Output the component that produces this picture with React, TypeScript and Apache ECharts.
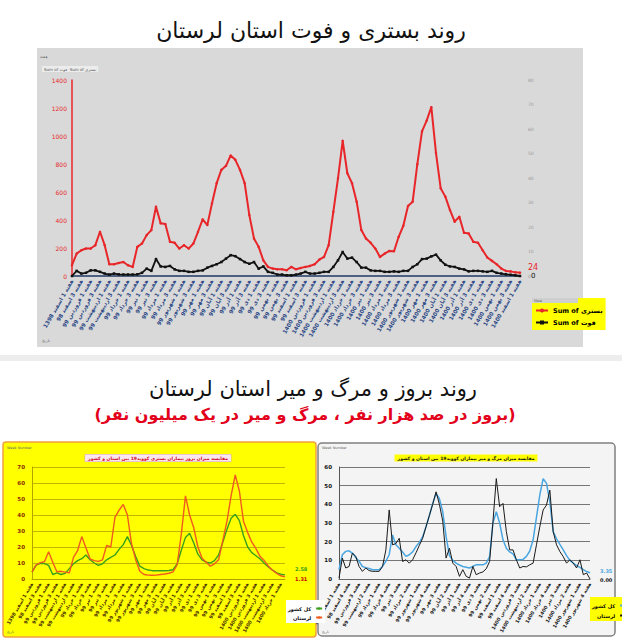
import React, { useEffect, useRef } from "react";
import * as echarts from "echarts";

const FONT = "'DejaVu Sans', 'Noto Sans', sans-serif";

// Persian month names used for the weekly tick labels
const months = ["فروردین", "اردیبهشت", "خرداد", "تیر", "مرداد", "شهریور", "مهر", "آبان", "آذر", "دی", "بهمن", "اسفند"];

function weekLabels(n: number): string[] {
  const out: string[] = [];
  let y = 1398;
  let m = 11;
  let w = 1;
  for (let i = 0; i < n; i++) {
    const yy = i === 0 || y === 1400 ? String(y) : String(y - 1300);
    out.push(`هفته ${w} ${months[m]} ${yy}`);
    w++;
    if (w > 4) {
      w = 1;
      m++;
      if (m > 11) {
        m = 0;
        y++;
      }
    }
  }
  return out;
}

// ---- Top chart: hospitalised (left axis) and deaths (right axis) ----
const hospitalised = [
  77, 160, 184, 196, 196, 220, 316, 220, 84, 84,
  93, 100, 77, 65, 208, 232, 292, 328, 495, 376,
  371, 244, 237, 196, 220, 196, 232, 316, 404, 364,
  519, 663, 758, 787, 861, 830, 758, 663, 435, 268,
  208, 112, 65, 53, 48, 48, 41, 65, 48,
  57, 65, 72, 84, 117, 136, 220, 459, 698, 966,
  734, 663, 531, 328, 268, 237, 196, 136, 160, 179,
  177, 280, 359, 500, 531, 799, 1033, 1110, 1206, 878,
  627, 567, 471, 388, 423, 309, 304, 244, 237, 184,
  132, 108, 84, 53, 36, 33, 26, 24,
];
const deaths = [
  0, 2.1, 1.0, 1.3, 2.3, 2.3, 1.7, 1.0, 0.6, 1.0,
  0.7, 0.6, 0.6, 0.6, 0.7, 1.3, 3.0, 2.1, 6.9, 3.9,
  3.7, 4.1, 2.7, 2.1, 2.1, 1.7, 1.7, 2.1, 2.3, 3.4,
  4.1, 4.8, 5.7, 7.1, 8.5, 8.1, 6.9, 5.7, 5.0, 5.7,
  3.0, 3.9, 1.7, 1.3, 0.6, 0.6, 0.3, 0.3, 0.6,
  1.0, 1.7, 1.0, 1.0, 1.3, 1.7, 1.7, 3.7, 6.4, 9.8,
  7.1, 7.5, 5.7, 3.4, 3.4, 2.3, 2.1, 2.1, 1.7, 1.7,
  1.9, 1.7, 2.1, 2.1, 3.7, 4.8, 6.9, 7.1, 8.0, 8.7,
  6.4, 4.6, 3.9, 3.7, 3.0, 2.7, 1.9, 2.1, 2.1, 1.9,
  1.7, 2.1, 1.3, 1.0, 0.7, 0.5, 0.3, 0,
];
const topWeeks = weekLabels(hospitalised.length);

// ---- Bottom-left: incidence per 100k (Lorestan vs whole country) ----
const incidenceLorestan = [
  4.3, 8.9, 10.2, 10.8, 17.0, 10.5, 4.5, 4.8, 4.3, 3.8,
  13.5, 17.8, 26.5, 19.5, 12.5, 11.5, 11.0, 12.0, 21.0, 20.0,
  38.5, 43.0, 46.6, 40.0, 22.0, 12.0, 4.8, 2.8, 2.4, 2.3,
  2.4, 2.8, 3.1, 3.6, 4.5, 8.9, 28, 52, 40, 32,
  20, 13, 10.5, 8.0, 9.5, 12.0, 24, 36, 52, 65,
  55, 36, 29, 23, 19, 14, 11.5, 8, 5.5, 3.5,
  2.0, 1.31,
];
const incidenceIran = [
  4.3, 8.7, 9.8, 9.6, 8.5, 2.8, 3.8, 2.8, 3.5, 6.5,
  9.5, 11.5, 12.7, 15.0, 12.0, 10.0, 8.5, 9.5, 12.0, 13.5,
  15.0, 18.5, 21.5, 26.5, 21.0, 14.0, 8.0, 6.5, 5.6, 5.2,
  5.2, 5.2, 5.2, 5.3, 5.8, 9.5, 18, 26, 28.6, 22.5,
  15.5, 12, 10.5, 10.0, 11.5, 15, 23, 31, 38, 40.4,
  36.5, 27, 20, 16.5, 14.5, 12.5, 9.8, 7.5, 5.5, 3.8,
  3.0, 2.58,
];
const incWeeks = weekLabels(incidenceLorestan.length);

// ---- Bottom-right: mortality per million (Lorestan vs whole country) ----
const mortalityLorestan = [
  0.5, 11.2, 5.9, 6.7, 13.9, 12.1, 6.7, 4.1, 5.9, 4.5,
  4.1, 4.1, 4.1, 6.7, 15.5, 37, 18.3, 19, 21.8, 9.4,
  10.3, 8.5, 10.3, 14, 18, 21.8, 28, 34, 40, 46.7,
  40, 31, 11.2, 16.5, 8.5, 6.7, 1.4, 5, 1.4, 0.5,
  6.7, 2.3, 3.2, 3.8, 5.5, 9.4, 30.7, 53.8, 38.7, 40.5,
  25.4, 15.6, 15.6, 10.3, 5.9, 6.7, 6.5, 7.6, 8.5, 18.3,
  28, 37, 39.6, 47.6, 25.4, 18.3, 14.7, 12, 8.5, 10.3,
  8.5, 5.9, 10.3, 2.3, 3.2, 0,
];
const mortalityIran = [
  5, 13, 14.8, 15.1, 13.9, 11.5, 9.5, 6.7, 6.1, 5.6,
  5, 5, 5, 6.8, 9.5, 13, 23.6, 18.3, 16.5, 14.5,
  12.1, 13, 14.5, 17.4, 19.5, 22.7, 28, 34, 40.5, 45.8,
  43, 36, 22.7, 12.5, 10, 8.5, 7.5, 6.7, 6.3, 5.9,
  6.8, 7.6, 7.6, 7.6, 8.5, 12, 30, 36, 30, 21,
  16.5, 14.5, 13.5, 10.3, 10.3, 10.5, 12.1, 15, 21, 33,
  45, 53.8, 51.2, 41.4, 25.4, 21.5, 18.5, 15.6, 12.5, 10,
  8.5, 7.2, 6.2, 5, 4, 3.35,
];
const mortWeeks = weekLabels(mortalityLorestan.length);

const titleTop = "روند بستری و فوت استان لرستان";
const titleBottom = "روند بروز و مرگ و میر استان لرستان";
const subtitleBottom = "(بروز در صد هزار نفر ، مرگ و میر در یک میلیون نفر)";
const innerTitleLeft = "مقایسه میزان بروز بیماران بستری کووید19 بین استان و کشور";
const innerTitleRight = "مقایسه میزان مرگ و میر بیماران کووید19 بین استان و کشور";
const nameHosp = "Sum of بستری";
const nameDeath = "Sum of فوت";
const nameIran = "کل کشور";
const nameLor = "لرستان";

const RED = "#e8262a";
const ORANGE = "#ef5a1f";
const GREEN = "#3aa01c";
const BLUE = "#4aa6e0";

const plain = (v: number) => String(v);

export default function App() {
  const ref = useRef<HTMLDivElement>(null);

  useEffect(() => {
    if (!ref.current) return;
    const chart = echarts.init(ref.current, undefined, { renderer: "svg" });

    const option: any = {
      animation: false,
      backgroundColor: "#ffffff",
      textStyle: { fontFamily: FONT },
      grid: [
        { left: 72, top: 80, width: 448, height: 196 },
        { left: 32, top: 467, width: 253, height: 112 },
        { left: 339, top: 467, width: 251, height: 112 },
      ],
      xAxis: [
        {
          gridIndex: 0,
          type: "category",
          data: topWeeks,
          boundaryGap: false,
          axisLine: { lineStyle: { color: "#1f3864", width: 1.5 } },
          axisTick: { show: false },
          axisLabel: { rotate: 60, fontSize: 5.5, color: "#2a4785", fontWeight: "bold", interval: 1, margin: 4 },
        },
        {
          gridIndex: 1,
          type: "category",
          data: incWeeks,
          boundaryGap: false,
          axisLine: { lineStyle: { color: "#b3a300", width: 1 } },
          axisTick: { show: false },
          axisLabel: { rotate: 60, fontSize: 4.8, color: "#4a3000", fontWeight: "bold", interval: 1, margin: 4 },
        },
        {
          gridIndex: 2,
          type: "category",
          data: mortWeeks,
          boundaryGap: false,
          axisLine: { lineStyle: { color: "#666", width: 1 } },
          axisTick: { show: false },
          axisLabel: { rotate: 60, fontSize: 4.8, color: "#222", fontWeight: "bold", interval: 2, margin: 4 },
        },
      ],
      yAxis: [
        {
          gridIndex: 0,
          type: "value",
          min: 0,
          max: 1400,
          interval: 200,
          axisLine: { show: true, lineStyle: { color: RED, width: 1.5 } },
          axisTick: { show: false },
          splitLine: { show: false },
          axisLabel: { fontSize: 6, color: RED, margin: 5, formatter: plain },
        },
        {
          gridIndex: 0,
          type: "value",
          position: "right",
          min: 0,
          max: 80,
          interval: 10,
          axisLine: { show: false },
          axisTick: { show: false },
          splitLine: { show: false },
          axisLabel: { fontSize: 4.5, color: "#9a9a9a", margin: 8, formatter: plain },
        },
        {
          gridIndex: 1,
          type: "value",
          min: 0,
          max: 70,
          interval: 10,
          axisLine: { show: true, lineStyle: { color: "#b3a300", width: 1 } },
          axisTick: { show: false },
          splitLine: { lineStyle: { color: "#b3a300", width: 0.8 } },
          axisLabel: { fontSize: 5.5, color: "#8b2a00", fontWeight: "bold", margin: 7, formatter: plain },
        },
        {
          gridIndex: 2,
          type: "value",
          min: 0,
          max: 60,
          interval: 10,
          axisLine: { show: true, lineStyle: { color: "#555", width: 1 } },
          axisTick: { show: false },
          splitLine: { lineStyle: { color: "#555", width: 0.8 } },
          axisLabel: { fontSize: 5.5, color: "#111", fontWeight: "bold", margin: 7, formatter: plain },
        },
      ],
      legend: [
        {
          left: 532,
          top: 298,
          orient: "vertical",
          backgroundColor: "#ffff00",
          padding: [9, 3, 4, 3],
          itemGap: 5,
          itemWidth: 12,
          itemHeight: 5,
          textStyle: { fontSize: 6.5, color: "#000", fontWeight: "bold" },
          data: [nameHosp, nameDeath],
        },
        {
          left: 286,
          top: 600,
          orient: "vertical",
          backgroundColor: "#ffffff",
          padding: [6, 2, 3, 2],
          itemGap: 4,
          itemWidth: 6,
          itemHeight: 3,
          align: "right",
          textStyle: { fontSize: 5, color: "#000", fontWeight: "bold" },
          data: [
            { name: nameIran, itemStyle: { color: GREEN }, lineStyle: { color: GREEN } },
            { name: nameLor, itemStyle: { color: ORANGE }, lineStyle: { color: ORANGE } },
          ],
        },
        {
          left: 590,
          top: 597,
          orient: "vertical",
          backgroundColor: "#ffff00",
          padding: [6, 2, 3, 2],
          itemGap: 5,
          itemWidth: 6,
          itemHeight: 3,
          align: "right",
          textStyle: { fontSize: 5, color: "#000", fontWeight: "bold" },
          data: [
            { name: nameIran, itemStyle: { color: BLUE }, lineStyle: { color: BLUE } },
            { name: nameLor, itemStyle: { color: "#111" }, lineStyle: { color: "#111" } },
          ],
        },
      ],
      series: [
        {
          name: nameHosp,
          type: "line",
          xAxisIndex: 0,
          yAxisIndex: 0,
          data: hospitalised,
          symbol: "circle",
          symbolSize: 2.5,
          itemStyle: { color: RED },
          lineStyle: { color: RED, width: 2 },
          endLabel: { show: true, formatter: (p: any) => String(p.value), color: RED, fontSize: 8, offset: [0, -5] },
          z: 3,
        },
        {
          name: nameDeath,
          type: "line",
          xAxisIndex: 0,
          yAxisIndex: 1,
          data: deaths,
          symbol: "rect",
          symbolSize: 2.5,
          itemStyle: { color: "#111" },
          lineStyle: { color: "#111", width: 1.8 },
          endLabel: { show: true, formatter: (p: any) => String(p.value), color: "#111", fontSize: 7, offset: [3, 0] },
          z: 4,
        },
        {
          name: nameIran,
          type: "line",
          xAxisIndex: 1,
          yAxisIndex: 2,
          data: incidenceIran,
          symbol: "none",
          lineStyle: { color: GREEN, width: 1.4 },
          itemStyle: { color: GREEN },
          endLabel: { show: true, formatter: (p: any) => Number(p.value).toFixed(2), color: GREEN, fontSize: 5, fontWeight: "bold", offset: [2, -6] },
          z: 3,
        },
        {
          name: nameLor,
          type: "line",
          xAxisIndex: 1,
          yAxisIndex: 2,
          data: incidenceLorestan,
          symbol: "none",
          lineStyle: { color: ORANGE, width: 1.4 },
          itemStyle: { color: ORANGE },
          endLabel: { show: true, formatter: (p: any) => Number(p.value).toFixed(2), color: "#c00000", fontSize: 5, fontWeight: "bold", offset: [2, 2] },
          z: 4,
        },
        {
          name: nameIran,
          type: "line",
          xAxisIndex: 2,
          yAxisIndex: 3,
          data: mortalityIran,
          symbol: "none",
          lineStyle: { color: BLUE, width: 1.5 },
          itemStyle: { color: BLUE },
          endLabel: { show: true, formatter: (p: any) => Number(p.value).toFixed(2), color: BLUE, fontSize: 5, fontWeight: "bold", offset: [2, -2] },
          z: 3,
        },
        {
          name: nameLor,
          type: "line",
          xAxisIndex: 2,
          yAxisIndex: 3,
          data: mortalityLorestan,
          symbol: "none",
          lineStyle: { color: "#1a1a1a", width: 1 },
          itemStyle: { color: "#1a1a1a" },
          endLabel: { show: true, formatter: (p: any) => Number(p.value).toFixed(2), color: "#111", fontSize: 5, fontWeight: "bold", offset: [2, 1] },
          z: 4,
        },
      ],
      graphic: [
        { type: "rect", z: -10, silent: true, shape: { x: 37, y: 48, width: 546, height: 299 }, style: { fill: "#d9d9d9" } },
        { type: "rect", z: -10, silent: true, shape: { x: 0, y: 355, width: 622, height: 6 }, style: { fill: "#ededed" } },
        { type: "rect", z: -10, silent: true, shape: { x: 3, y: 442, width: 313, height: 195, r: 3 }, style: { fill: "#ffff00", stroke: "#f0a040", lineWidth: 1.5 } },
        { type: "rect", z: -9, silent: true, shape: { x: 318, y: 443, width: 297, height: 193, r: 4 }, style: { fill: "#f4f4f4", stroke: "#808080", lineWidth: 1.5 } },
        { type: "rect", z: 10, silent: true, shape: { x: 532, y: 298, width: 46, height: 5 }, style: { fill: "#cfcfcf" } },
        { type: "text", z: 10, x: 534, y: 300.5, style: { text: "Mew", fontSize: 3.5, fill: "#666", verticalAlign: "middle", fontFamily: FONT } },
        { type: "text", x: 311, y: 30, style: { text: titleTop, fontSize: 22, fill: "#111", align: "center", verticalAlign: "middle", fontFamily: FONT } },
        { type: "text", x: 313, y: 389, style: { text: titleBottom, fontSize: 21, fill: "#111", align: "center", verticalAlign: "middle", fontFamily: FONT } },
        { type: "text", x: 305, y: 414, style: { text: subtitleBottom, fontSize: 16, fontWeight: "bold", fill: "#e3001b", align: "center", verticalAlign: "middle", fontFamily: FONT } },
        { type: "text", x: 158, y: 458, style: { text: innerTitleLeft, fontSize: 4.5, fontWeight: "bold", fill: "#d0021b", align: "center", verticalAlign: "middle", backgroundColor: "#fbe8ee", padding: [1, 3], borderColor: "#d9a0b0", borderWidth: 0.5, fontFamily: FONT } },
        { type: "text", x: 466, y: 458, style: { text: innerTitleRight, fontSize: 4.5, fontWeight: "bold", fill: "#111", align: "center", verticalAlign: "middle", backgroundColor: "#ffff00", padding: [1, 3], fontFamily: FONT } },
        { type: "text", x: 40, y: 54, style: { text: "هفته", fontSize: 4, fill: "#666", fontFamily: FONT } },
        { type: "text", x: 42, y: 66, style: { text: "Sum of فوت  Sum of بستری", fontSize: 4, fill: "#555", fontFamily: FONT, backgroundColor: "#ececec", padding: [1, 2] } },
        { type: "text", x: 42, y: 338, style: { text: "تاریخ", fontSize: 4, fill: "#666", fontFamily: FONT } },
        { type: "text", x: 7, y: 446, style: { text: "Week Number", fontSize: 3.5, fill: "#666", fontFamily: FONT } },
        { type: "text", x: 7, y: 630, style: { text: "تاریخ", fontSize: 3.5, fill: "#666", fontFamily: FONT } },
        { type: "text", x: 322, y: 446, style: { text: "Week Number", fontSize: 3.5, fill: "#666", fontFamily: FONT } },
        { type: "text", x: 322, y: 630, style: { text: "تاریخ", fontSize: 3.5, fill: "#666", fontFamily: FONT } },
      ],
    };

    chart.setOption(option);
    return () => chart.dispose();
  }, []);

  return <div ref={ref} style={{ position: "absolute", left: 0, top: 0, width: 622, height: 640 }} />;
}
